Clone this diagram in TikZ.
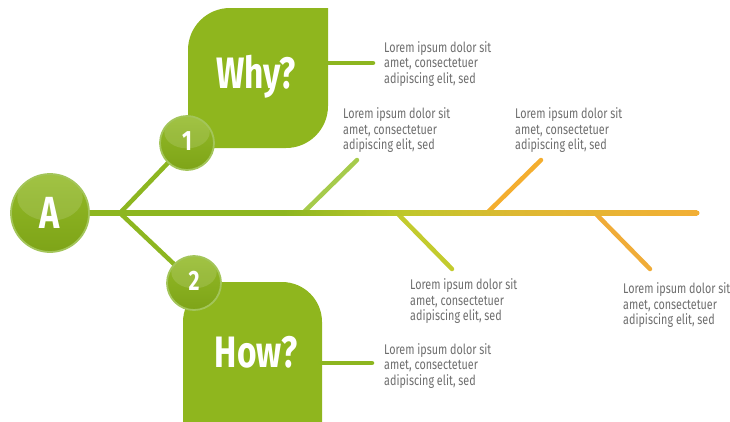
\documentclass[tikz,border=0pt]{standalone}
\usepackage{fontspec}
\usetikzlibrary{calc}
\setmainfont{Fira Sans}
\newfontfamily\bodyfont[FakeStretch=0.77]{Fira Sans}
\newfontfamily\headfont[FakeStretch=0.76]{Fira Sans}
\definecolor{boxgreen}{HTML}{8FB61E}
\definecolor{balltop}{HTML}{93BA27}
\definecolor{ballbot}{HTML}{7EA418}
\definecolor{ballring}{HTML}{A3C55A}
\definecolor{spG}{HTML}{8DB620}
\definecolor{spY}{HTML}{BFC72B}
\definecolor{spM}{HTML}{DDB832}
\definecolor{spO}{HTML}{F2AF35}
\definecolor{brA}{HTML}{A6CB4B}
\definecolor{brB}{HTML}{F4AE2F}
\definecolor{brC}{HTML}{C3CB2E}
\definecolor{brD}{HTML}{F0AC38}
\definecolor{txtgray}{HTML}{6E6E6E}
\pgfdeclarehorizontalshading{spineshade}{100bp}{color(0bp)=(spG); color(41bp)=(spG); color(51bp)=(spY); color(60bp)=(spM); color(75bp)=(spO); color(100bp)=(spO)}
\tikzset{
  conn/.style={line width=4.5pt, line cap=round},
  ball/.style={circle, top color=balltop, bottom color=ballbot, draw=ballring, line width=1.8pt, inner sep=0pt,
    minimum size=#1, text=white,
    path picture={\fill[white,opacity=0.13] ($(path picture bounding box.center)+(0,{-0.2*#1})$) ellipse [x radius={0.42*#1}, y radius={0.3*#1}];}},
  lorem/.style={anchor=north west, inner sep=0pt, align=left, text=txtgray,
    font=\bodyfont\fontsize{14}{15.5}\selectfont},
  head/.style={anchor=base, inner sep=0pt, text=white, font=\headfont\bfseries\fontsize{44}{44}\selectfont},
  numtxt/.style={anchor=base, inner sep=0pt, text=white, font=\headfont\bfseries\fontsize{28}{28}\selectfont}
}
\begin{document}
\begin{tikzpicture}[x=1pt,y=-1pt]
\useasboundingbox (0,0) rectangle (730,421);
\begin{scope}
\clip (0,0) rectangle (730,421);
% Why box
\fill[boxgreen] (188,148) -- (188,50) .. controls (188,26.8) and (206.8,8) .. (230,8)
  -- (328,8) -- (328,106) .. controls (328,129.2) and (309.2,148) .. (286,148) -- cycle;
% How box
\fill[boxgreen] (183,430) -- (183,322) .. controls (183,299.9) and (200.9,282) .. (223,282)
  -- (282,282) .. controls (304.1,282) and (322,299.9) .. (322,322) -- (322,430) -- cycle;
\end{scope}
% named points
\coordinate (whyR) at (327,63);
\coordinate (whyEnd) at (373,63);
\coordinate (howR) at (321,363);
\coordinate (howEnd) at (372,363);
\coordinate (Apos) at (50,213);
\coordinate (c1pos) at (187,143);
\coordinate (c2pos) at (194,283);
\coordinate (joint) at (120,213);
\coordinate (spineStart) at (88,213);
\coordinate (spineEnd) at (697,213);
\coordinate (b1s) at (303,213); \coordinate (b1e) at (357,160);
\coordinate (b2s) at (487,213); \coordinate (b2e) at (541,160);
\coordinate (b3s) at (397,213); \coordinate (b3e) at (452,269);
\coordinate (b4s) at (595,213); \coordinate (b4e) at (650,269);
% connectors from boxes
\draw[conn, spG] (whyR) -- (whyEnd);
\draw[conn, spG] (howR) -- (howEnd);
% branches
\draw[conn, spG] (joint) -- (c1pos);
\draw[conn, spG] (joint) -- (c2pos);
\draw[conn, brA] (b1s) -- (b1e);
\draw[conn, brB] (b2s) -- (b2e);
\draw[conn, brC] (b3s) -- (b3e);
\draw[conn, brD] (b4s) -- (b4e);
% spine
\shade[shading=spineshade] ($(spineStart)+(0,-2.5)$) rectangle ($(spineEnd)+(0,2.5)$);
\fill[spO] (spineEnd) circle (2.5);
% balls
\node[ball=78] (A) at (Apos) {};
\node[ball=54] (c1) at (c1pos) {};
\node[ball=54] (c2) at (c2pos) {};
\node[head, font=\headfont\bfseries\fontsize{45}{45}\selectfont] (Atxt) at (50,228.5) {A};
\node[numtxt] (n1) at (187,150) {1};
\node[numtxt] (n2) at (194,290) {2};
% headings
\node[head] (why) at (256,88) {Why?};
\node[head] (how) at (256,367) {How?};
% texts
\node[lorem] (tWhy) at (384,41) {Lorem ipsum dolor sit\\amet, consectetuer\\adipiscing elit, sed};
\node[lorem] (t1) at (343,107.5) {Lorem ipsum dolor sit\\amet, consectetuer\\adipiscing elit, sed};
\node[lorem] (t2) at (515,107.5) {Lorem ipsum dolor sit\\amet, consectetuer\\adipiscing elit, sed};
\node[lorem] (t3) at (410,278.5) {Lorem ipsum dolor sit\\amet, consectetuer\\adipiscing elit, sed};
\node[lorem] (t4) at (623,282.5) {Lorem ipsum dolor sit\\amet, consectetuer\\adipiscing elit, sed};
\node[lorem] (tHow) at (384,343) {Lorem ipsum dolor sit\\amet, consectetuer\\adipiscing elit, sed};
\end{tikzpicture}
\end{document}
